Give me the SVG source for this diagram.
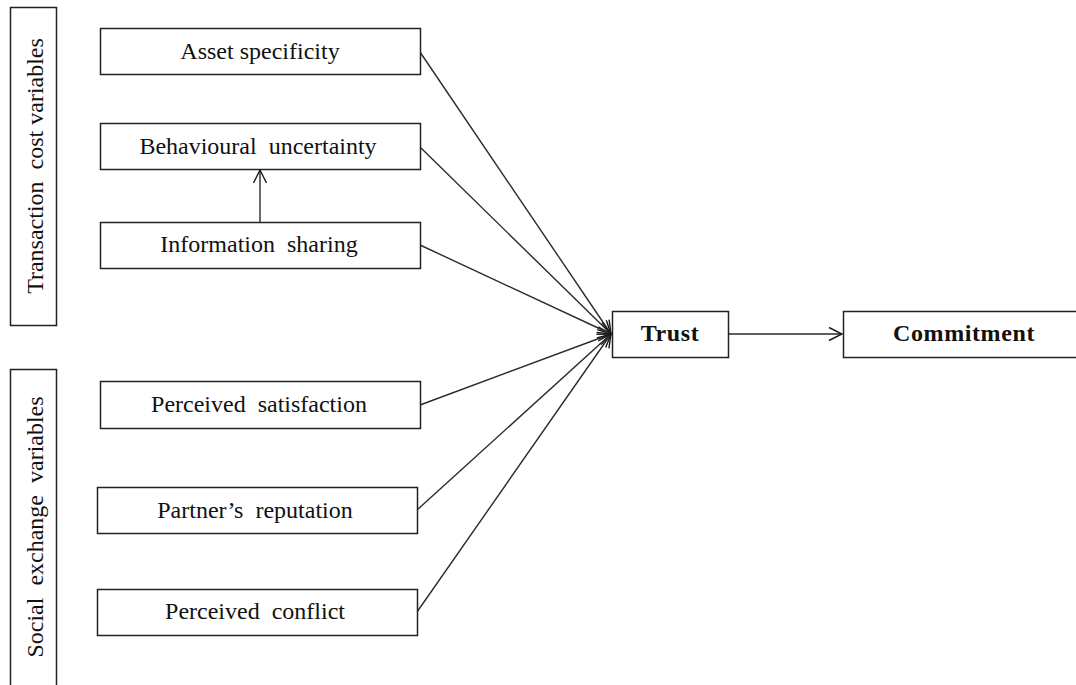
<svg xmlns="http://www.w3.org/2000/svg" width="1076" height="685" viewBox="0 0 1076 685">
  <defs>
    <marker id="open" viewBox="0 0 16 16" refX="15" refY="8" markerWidth="16" markerHeight="16" markerUnits="userSpaceOnUse" orient="auto">
      <path d="M2,1.5 L15,8 L2,14.5" fill="none" stroke="#1a1a1a" stroke-width="1.4"/>
    </marker>
  </defs>
  <style>
    .box { fill: #ffffff; stroke: #222222; stroke-width: 1.5; }
    .lbl { font-family: "Liberation Serif", "Times New Roman", serif; font-size: 24px; fill: #111111; text-anchor: middle; dominant-baseline: central; }
    .bold { font-weight: bold; letter-spacing: 0.6px; }
    .edge { fill: none; stroke: #2a2a2a; stroke-width: 1.4; marker-end: url(#open); }
  </style>
  <rect width="1076" height="685" fill="#ffffff"/>

  <!-- bracket boxes with rotated group titles -->
  <g id="group-transaction">
    <rect class="box" x="10.5" y="7.5" width="46" height="318"/>
    <text class="lbl" transform="translate(35,166) rotate(-90)" xml:space="preserve">Transaction  cost variables</text>
  </g>
  <g id="group-social">
    <rect class="box" x="10.5" y="369.5" width="46" height="330"/>
    <text class="lbl" transform="translate(35,527) rotate(-90)" xml:space="preserve">Social  exchange  variables</text>
  </g>

  <g id="connectors">
    <line class="edge" x1="420" y1="52" x2="611" y2="334"/>
    <line class="edge" x1="420" y1="147" x2="611" y2="334"/>
    <line class="edge" x1="420" y1="245" x2="611" y2="334"/>
    <line class="edge" x1="420" y1="405" x2="611" y2="334"/>
    <line class="edge" x1="417" y1="510" x2="611" y2="334"/>
    <line class="edge" x1="417" y1="612" x2="611" y2="334"/>
    <line class="edge" x1="260" y1="222" x2="260" y2="170"/>
    <line class="edge" x1="728" y1="334" x2="842" y2="334"/>
  </g>

  <g id="asset-specificity">
    <rect class="box" x="100.5" y="28.5" width="320" height="46"/>
    <text class="lbl" x="260" y="51">Asset specificity</text>
  </g>
  <g id="behavioural-uncertainty">
    <rect class="box" x="100.5" y="123.5" width="320" height="46"/>
    <text class="lbl" x="258" y="146" xml:space="preserve">Behavioural  uncertainty</text>
  </g>
  <g id="information-sharing">
    <rect class="box" x="100.5" y="222.5" width="320" height="46"/>
    <text class="lbl" x="259" y="244" xml:space="preserve">Information  sharing</text>
  </g>
  <g id="perceived-satisfaction">
    <rect class="box" x="100.5" y="381.5" width="320" height="47"/>
    <text class="lbl" x="259" y="404" xml:space="preserve">Perceived  satisfaction</text>
  </g>
  <g id="partners-reputation">
    <rect class="box" x="97.5" y="487.5" width="320" height="46"/>
    <text class="lbl" x="255" y="510" xml:space="preserve">Partner’s  reputation</text>
  </g>
  <g id="perceived-conflict">
    <rect class="box" x="97.5" y="589.5" width="320" height="46"/>
    <text class="lbl" x="255" y="611" xml:space="preserve">Perceived  conflict</text>
  </g>
  <g id="trust">
    <rect class="box" x="612.5" y="311.5" width="116" height="46"/>
    <text class="lbl bold" x="670" y="333">Trust</text>
  </g>
  <g id="commitment">
    <rect class="box" x="843.5" y="311.5" width="260" height="46"/>
    <text class="lbl bold" x="964" y="333" xml:space="preserve">Commitment</text>
  </g>
</svg>
